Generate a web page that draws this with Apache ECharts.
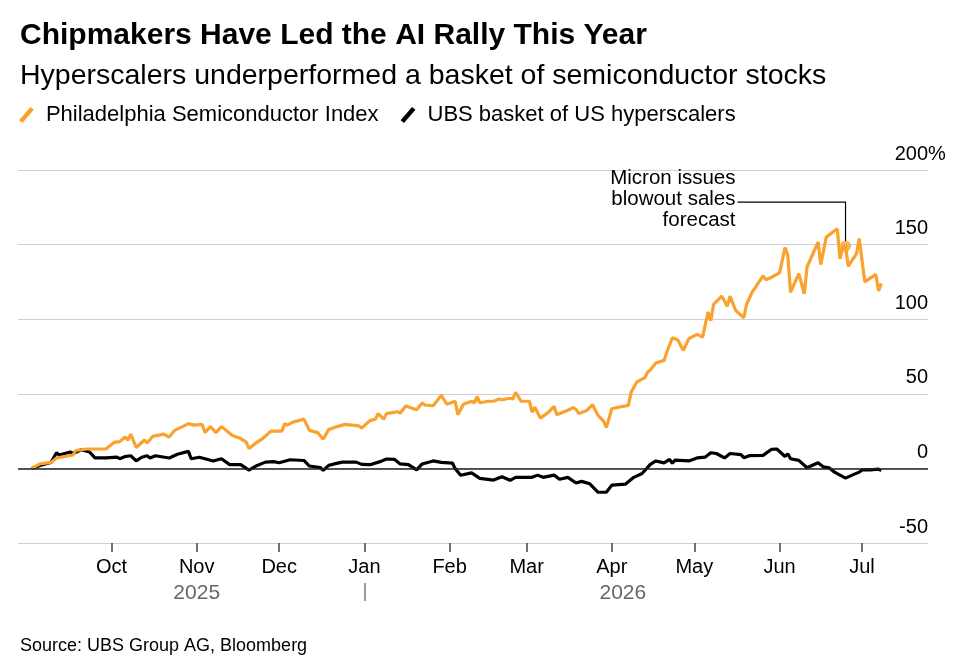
<!DOCTYPE html>
<html>
<head>
<meta charset="utf-8" />
<title>Chipmakers Have Led the AI Rally This Year</title>
<script src="https://cdn.jsdelivr.net/npm/echarts@6/dist/echarts.min.js"></script>
<style>
  html, body { margin: 0; padding: 0; background: #fff; }
  #main { width: 961px; height: 667px; }
</style>
</head>
<body>
<div id="main"></div>
<script type="text/javascript">
  var FONT = '"Liberation Sans", Arial, sans-serif';
  var ORANGE = '#fba12e';

  // x axis: month ticks, their labels, and the year row
  var monthTicks = ['2025-10-01', '2025-11-01', '2025-12-01', '2026-01-01', '2026-02-01',
                    '2026-03-01', '2026-04-01', '2026-05-01', '2026-06-01', '2026-07-01'];
  var monthNames = ['Oct', 'Nov', 'Dec', 'Jan', 'Feb', 'Mar', 'Apr', 'May', 'Jun', 'Jul'];
  var yearNames = ['2025', '2026'];
  var yearCenters = ['2025-11-01', '2026-04-05'];
  var yearBreaks = ['2026-01-01'];
  var xRange = ['2025-08-28', '2026-07-25'];
  var yTicks = [-50, 0, 50, 100, 150, 200];

  // % change, Philadelphia Semiconductor Index
  var sox = [
    ['2025-09-02', 0], ['2025-09-05', 3], ['2025-09-09', 4], ['2025-09-11', 7], ['2025-09-17', 9],
    ['2025-09-18', 12], ['2025-09-22', 13], ['2025-09-29', 13], ['2025-10-02', 17.5], ['2025-10-04', 18],
    ['2025-10-06', 21], ['2025-10-07', 19], ['2025-10-08', 23], ['2025-10-10', 14], ['2025-10-13', 19],
    ['2025-10-14', 17], ['2025-10-16', 21.5], ['2025-10-20', 23], ['2025-10-22', 21], ['2025-10-24', 25.5],
    ['2025-10-29', 30], ['2025-10-31', 29], ['2025-11-03', 29.5], ['2025-11-04', 24], ['2025-11-06', 28],
    ['2025-11-08', 24], ['2025-11-10', 28], ['2025-11-12', 25], ['2025-11-14', 22], ['2025-11-17', 20],
    ['2025-11-19', 17.6], ['2025-11-20', 13.4], ['2025-11-23', 17.6], ['2025-11-25', 20], ['2025-11-28', 25],
    ['2025-12-02', 25], ['2025-12-03', 30], ['2025-12-04', 29], ['2025-12-06', 31], ['2025-12-10', 33],
    ['2025-12-12', 25.5], ['2025-12-15', 24], ['2025-12-17', 19.5], ['2025-12-19', 26], ['2025-12-22', 28],
    ['2025-12-25', 29.5], ['2025-12-30', 28.5], ['2025-12-31', 27], ['2026-01-03', 32], ['2026-01-05', 33],
    ['2026-01-06', 36.7], ['2026-01-08', 33], ['2026-01-09', 36.7], ['2026-01-13', 38], ['2026-01-14', 37],
    ['2026-01-16', 41.8], ['2026-01-20', 39.3], ['2026-01-22', 43.8], ['2026-01-23', 42.5], ['2026-01-26', 42],
    ['2026-01-29', 49], ['2026-01-31', 43], ['2026-02-03', 45], ['2026-02-04', 36], ['2026-02-06', 43],
    ['2026-02-09', 45], ['2026-02-10', 44], ['2026-02-11', 48], ['2026-02-12', 44], ['2026-02-15', 45],
    ['2026-02-17', 45], ['2026-02-19', 46.5], ['2026-02-20', 46], ['2026-02-23', 47], ['2026-02-24', 46.5],
    ['2026-02-25', 51], ['2026-02-27', 45], ['2026-03-02', 45], ['2026-03-03', 37.7], ['2026-03-04', 41],
    ['2026-03-06', 33.7], ['2026-03-09', 37.7], ['2026-03-11', 41.5], ['2026-03-12', 36], ['2026-03-16', 39],
    ['2026-03-18', 40.8], ['2026-03-19', 39.5], ['2026-03-20', 36.7], ['2026-03-23', 39], ['2026-03-25', 42.7],
    ['2026-03-27', 35.5], ['2026-03-29', 31.7], ['2026-03-30', 27.3], ['2026-04-01', 40], ['2026-04-02', 40.5],
    ['2026-04-07', 42.2], ['2026-04-08', 51], ['2026-04-10', 57.8], ['2026-04-13', 60.8], ['2026-04-14', 64.5],
    ['2026-04-15', 66], ['2026-04-17', 70.6], ['2026-04-20', 72.4], ['2026-04-21', 78], ['2026-04-23', 87.6],
    ['2026-04-25', 86], ['2026-04-27', 79], ['2026-04-29', 87], ['2026-05-02', 89.8], ['2026-05-04', 88],
    ['2026-05-06', 104.8], ['2026-05-07', 99], ['2026-05-08', 110], ['2026-05-11', 115.5], ['2026-05-13', 108.6],
    ['2026-05-14', 115.5], ['2026-05-16', 106], ['2026-05-19', 101], ['2026-05-20', 110], ['2026-05-22', 118],
    ['2026-05-26', 129], ['2026-05-27', 126.5], ['2026-05-29', 128], ['2026-06-01', 131], ['2026-06-03', 148],
    ['2026-06-04', 143], ['2026-06-05', 118], ['2026-06-08', 130.5], ['2026-06-10', 117], ['2026-06-11', 135],
    ['2026-06-15', 151.7], ['2026-06-16', 136.7], ['2026-06-18', 155], ['2026-06-22', 160.6], ['2026-06-23', 140.5],
    ['2026-06-24', 148], ['2026-06-25', 149], ['2026-06-26', 135.5], ['2026-06-29', 144], ['2026-06-30', 154],
    ['2026-07-02', 125], ['2026-07-06', 130], ['2026-07-07', 119], ['2026-07-08', 124]
  ];

  // % change, UBS basket of US hyperscalers
  var ubs = [
    ['2025-09-02', 0], ['2025-09-05', 2], ['2025-09-09', 4], ['2025-09-11', 10.5], ['2025-09-12', 9],
    ['2025-09-16', 11], ['2025-09-17', 10], ['2025-09-20', 12.5], ['2025-09-23', 11], ['2025-09-25', 7],
    ['2025-09-29', 7], ['2025-10-03', 7.5], ['2025-10-04', 6.5], ['2025-10-06', 8], ['2025-10-08', 8.5],
    ['2025-10-10', 5], ['2025-10-12', 7.5], ['2025-10-14', 8.5], ['2025-10-15', 7], ['2025-10-17', 8.5],
    ['2025-10-22', 7], ['2025-10-25', 9.5], ['2025-10-29', 11.4], ['2025-10-30', 6.5], ['2025-11-02', 7.5],
    ['2025-11-07', 5], ['2025-11-10', 6.5], ['2025-11-13', 2.5], ['2025-11-17', 2.5], ['2025-11-20', -1.2],
    ['2025-11-23', 2], ['2025-11-26', 4.2], ['2025-11-29', 4.5], ['2025-12-01', 3.8], ['2025-12-05', 5.8],
    ['2025-12-10', 5.3], ['2025-12-12', 1.6], ['2025-12-16', 0.5], ['2025-12-17', -1.3], ['2025-12-19', 2],
    ['2025-12-21', 3], ['2025-12-24', 4.2], ['2025-12-29', 4.2], ['2025-12-31', 2.7], ['2026-01-03', 2.5],
    ['2026-01-07', 4.7], ['2026-01-09', 6.3], ['2026-01-12', 6], ['2026-01-14', 3], ['2026-01-17', 2.5],
    ['2026-01-20', -1], ['2026-01-22', 3], ['2026-01-26', 5], ['2026-01-29', 4], ['2026-02-02', 3.6],
    ['2026-02-03', 0], ['2026-02-05', -4.6], ['2026-02-09', -3], ['2026-02-12', -6.7], ['2026-02-17', -7.8],
    ['2026-02-20', -5.6], ['2026-02-23', -8], ['2026-02-25', -6], ['2026-03-03', -6], ['2026-03-05', -4.5],
    ['2026-03-07', -6], ['2026-03-11', -4.5], ['2026-03-13', -7.3], ['2026-03-16', -6], ['2026-03-19', -9.8],
    ['2026-03-21', -8.7], ['2026-03-24', -10.3], ['2026-03-27', -16], ['2026-03-30', -16], ['2026-04-01', -11.2],
    ['2026-04-06', -10.5], ['2026-04-09', -6], ['2026-04-12', -3.4], ['2026-04-15', 2.7], ['2026-04-17', 5],
    ['2026-04-20', 3.7], ['2026-04-22', 6], ['2026-04-23', 3.5], ['2026-04-24', 5.5], ['2026-04-29', 5],
    ['2026-05-02', 7], ['2026-05-05', 7.6], ['2026-05-07', 10.5], ['2026-05-09', 10], ['2026-05-12', 7],
    ['2026-05-14', 10], ['2026-05-18', 9.2], ['2026-05-19', 7.2], ['2026-05-21', 8.5], ['2026-05-26', 8.7],
    ['2026-05-29', 12.7], ['2026-05-31', 13], ['2026-06-03', 8], ['2026-06-04', 9.8], ['2026-06-05', 6.5],
    ['2026-06-08', 5.4], ['2026-06-11', 0.4], ['2026-06-15', 3.8], ['2026-06-17', 1], ['2026-06-19', 0.4],
    ['2026-06-21', -2.5], ['2026-06-25', -6.5], ['2026-06-28', -4], ['2026-06-30', -2.5], ['2026-07-01', -1],
    ['2026-07-04', -1], ['2026-07-07', -0.5], ['2026-07-08', -1.5]
  ];

  var micron = ['2026-06-25', 149];
  var micronText = 'Micron issues\nblowout sales\nforecast';

  // dates as local-midnight timestamps, so ticks land on the 1st of each month
  function ts(s) {
    var p = s.split('-');
    return new Date(+p[0], +p[1] - 1, +p[2]).getTime();
  }
  function toPts(arr) {
    return arr.map(function (d) { return [ts(d[0]), d[1]]; });
  }
  var monthTs = monthTicks.map(ts);
  var yearTs = yearCenters.map(ts);

  var chart = echarts.init(document.getElementById('main'));
  var option = {
    animation: false,
    textStyle: { fontFamily: FONT },
    title: [
      { text: 'Chipmakers Have Led the AI Rally This Year', left: 15, top: 16,
        textStyle: { fontSize: 30, fontWeight: 'bold', color: '#000', fontFamily: FONT } },
      { text: 'Hyperscalers underperformed a basket of semiconductor stocks', left: 15, top: 57,
        textStyle: { fontSize: 28.5, fontWeight: 'normal', color: '#000', fontFamily: FONT } },
      { text: 'Source: UBS Group AG, Bloomberg', left: 15, top: 632,
        textStyle: { fontSize: 18, fontWeight: 'normal', color: '#000', fontFamily: FONT } }
    ],
    legend: {
      left: 19, top: 104, padding: 0,
      data: ['Philadelphia Semiconductor Index', 'UBS basket of US hyperscalers'],
      icon: 'path://M0,12.5 L10,1 L13,3.5 L3,15 Z',
      itemWidth: 15, itemHeight: 16, itemGap: 22,
      textStyle: { fontSize: 22, color: '#000', fontFamily: FONT, padding: [0, 0, 0, 7] }
    },
    grid: { left: 18, right: 33, top: 170, bottom: 124 },
    xAxis: [
      {
        type: 'value', min: ts(xRange[0]), max: ts(xRange[1]),
        axisLine: { show: false, onZero: false },
        splitLine: { show: false },
        axisTick: { show: true, customValues: monthTs, length: 9, lineStyle: { color: '#444', width: 1.5 } },
        axisLabel: {
          customValues: monthTs, margin: 14, fontSize: 20, color: '#000', fontFamily: FONT,
          formatter: function (v) {
            var i = monthTs.indexOf(v);
            return i >= 0 ? monthNames[i] : '';
          }
        }
      },
      {
        type: 'value', min: ts(xRange[0]), max: ts(xRange[1]), position: 'bottom', offset: 40,
        axisLine: { show: false, onZero: false },
        splitLine: { show: false },
        axisTick: { show: true, customValues: yearBreaks.map(ts), length: 18, lineStyle: { color: '#777', width: 1.5 } },
        axisLabel: {
          customValues: yearTs, margin: 0, fontSize: 21, color: '#666', fontFamily: FONT,
          formatter: function (v) {
            var i = yearTs.indexOf(v);
            return i >= 0 ? yearNames[i] : '';
          }
        }
      }
    ],
    yAxis: {
      type: 'value', position: 'right',
      min: yTicks[0], max: yTicks[yTicks.length - 1], interval: 50,
      axisLine: { show: false },
      axisTick: { show: false },
      splitLine: { lineStyle: { color: '#cfcfcf', width: 1.2 } },
      axisLabel: {
        inside: true, margin: 0, fontSize: 20, color: '#000', fontFamily: FONT,
        verticalAlign: 'bottom', padding: [0, 0, 6, 0]
      }
    },
    series: [
      {
        name: 'UBS basket of US hyperscalers', type: 'line', data: toPts(ubs),
        showSymbol: false, color: '#000', z: 3,
        lineStyle: { color: '#000', width: 3.2 },
        markLine: {
          silent: true, symbol: 'none', label: { show: false },
          lineStyle: { color: '#222', width: 1.5, type: 'solid' },
          data: [{ yAxis: 0 }]
        }
      },
      {
        name: 'Philadelphia Semiconductor Index', type: 'line', data: toPts(sox),
        showSymbol: false, color: ORANGE, z: 4,
        lineStyle: { color: ORANGE, width: 3.2 }
      },
      {
        name: 'Micron', type: 'scatter', data: [[ts(micron[0]), micron[1]]],
        symbolSize: 11, itemStyle: { color: ORANGE }, z: 5, silent: true
      }
    ]
  };
  chart.setOption(option);

  // annotation and the hanging % sign, placed from the data point / axis
  var p = chart.convertToPixel({ gridIndex: 0 }, [ts(micron[0]), micron[1]]);
  var top200 = chart.convertToPixel({ yAxisIndex: 0 }, 200);
  var rightEdge = 961 - 33;
  var elbowY = p[1] - 44;
  chart.setOption({
    graphic: [
      {
        type: 'polyline', silent: true, z: 10,
        shape: { points: [[p[0], p[1] - 5], [p[0], elbowY], [p[0] - 108, elbowY]] },
        style: { stroke: '#000', lineWidth: 1.2, fill: null }
      },
      {
        type: 'text', silent: true, z: 10,
        x: p[0] - 110, y: p[1] - 78,
        style: {
          text: micronText, fill: '#000', font: '20.5px ' + FONT,
          align: 'right', verticalAlign: 'top', lineHeight: 21
        }
      },
      {
        type: 'text', silent: true, z: 10,
        x: rightEdge, y: top200 - 6,
        style: { text: '%', fill: '#000', font: '20px ' + FONT, align: 'left', verticalAlign: 'bottom' }
      }
    ]
  });
</script>
</body>
</html>
